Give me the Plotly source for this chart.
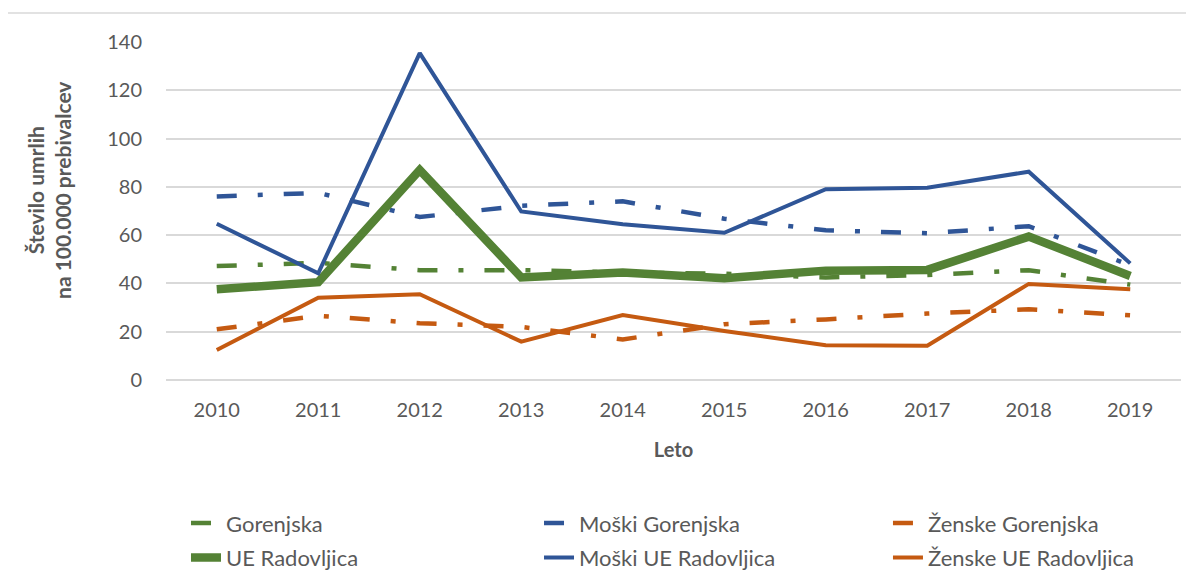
import plotly.graph_objects as go

years = ["2010", "2011", "2012", "2013", "2014", "2015", "2016", "2017", "2018", "2019"]

gorenjska = [47.2, 48.5, 45.5, 45.5, 44.5, 44.0, 42.5, 43.5, 45.5, 39.5]
moski_gorenjska = [76.0, 77.5, 67.5, 72.2, 74.0, 66.8, 62.0, 60.8, 63.7, 47.5]
zenske_gorenjska = [21.0, 26.6, 23.5, 22.0, 16.8, 23.1, 25.1, 27.5, 29.3, 26.8]
ue_radovljica = [37.6, 40.5, 87.0, 42.5, 44.5, 42.2, 45.3, 45.6, 59.4, 43.1]
moski_ue = [64.7, 44.2, 135.4, 69.8, 64.5, 61.0, 79.0, 79.6, 86.3, 48.3]
zenske_ue = [12.4, 34.1, 35.5, 15.9, 26.9, 20.3, 14.4, 14.2, 39.8, 37.6]

GREEN = "#548235"
BLUE = "#2F5597"
ORANGE = "#C55A11"
TXT = "#595959"
GRID = "#D9D9D9"
FONT = "Lato"
DASHDOT = "20px,21px,5px,21px"

series = [
    ("Gorenjska", gorenjska, GREEN, 4.5, DASHDOT, "legend"),
    ("Moški Gorenjska", moski_gorenjska, BLUE, 4.5, DASHDOT, "legend2"),
    ("Ženske Gorenjska", zenske_gorenjska, ORANGE, 4.5, DASHDOT, "legend3"),
    ("UE Radovljica", ue_radovljica, GREEN, 8.5, "solid", "legend"),
    ("Moški UE Radovljica", moski_ue, BLUE, 4.0, "solid", "legend2"),
    ("Ženske UE Radovljica", zenske_ue, ORANGE, 4.0, "solid", "legend3"),
]

fig = go.Figure()
for i, (name, vals, col, w, dash, leg) in enumerate(series):
    fig.add_trace(go.Scatter(
        x=years, y=vals, name=name, mode="lines",
        line=dict(color=col, width=w, dash=dash),
        legend=leg, legendgroup=f"g{i}",
    ))

legend_common = dict(
    orientation="v", xanchor="left", yanchor="top",
    yref="container", y=0.148,
    font=dict(family=FONT, size=22, color=TXT),
    bgcolor="rgba(0,0,0,0)", tracegroupgap=3, itemwidth=30,
)

# page body has an 8px margin, so margins are shifted by 8px
fig.update_layout(
    width=1194, height=580,
    margin=dict(l=158, r=21, t=34, b=208),
    paper_bgcolor="white", plot_bgcolor="white",
    font=dict(family=FONT, size=20, color=TXT),
    showlegend=True,
    legend=dict(x=0.0197, **legend_common),
    legend2=dict(x=0.3675, **legend_common),
    legend3=dict(x=0.7113, **legend_common),
    xaxis=dict(
        type="category", range=[-0.5, 9.5], showgrid=False, zeroline=False,
        showline=False, ticks="outside", ticklen=12, tickcolor="rgba(0,0,0,0)",
        tickfont=dict(family=FONT, size=20, color=TXT),
        title=dict(text="<b>Leto</b>", font=dict(family=FONT, size=20, color=TXT), standoff=22),
    ),
    yaxis=dict(
        range=[0, 140], dtick=20, tick0=0, showgrid=True, gridcolor=GRID, gridwidth=1.5,
        zeroline=True, zerolinecolor=GRID, zerolinewidth=1.5, showline=False,
        ticks="outside", ticklen=19, tickcolor="rgba(0,0,0,0)",
        tickfont=dict(family=FONT, size=20, color=TXT),
    ),
    annotations=[dict(
        text="<b>Število umrlih<br>na 100.000 prebivalcev</b>",
        xref="paper", yref="paper", x=-0.1154, y=0.562,
        xanchor="center", yanchor="middle", textangle=-90, showarrow=False,
        font=dict(family=FONT, size=21, color=TXT),
    )],
    shapes=[dict(
        type="rect", xref="paper", yref="paper",
        x0=-0.1567, x1=1.03, y0=-0.7, y1=1.0858,
        line=dict(color=GRID, width=1.5), fillcolor="rgba(0,0,0,0)", layer="below",
    )],
)

fig.write_html("out.html")
